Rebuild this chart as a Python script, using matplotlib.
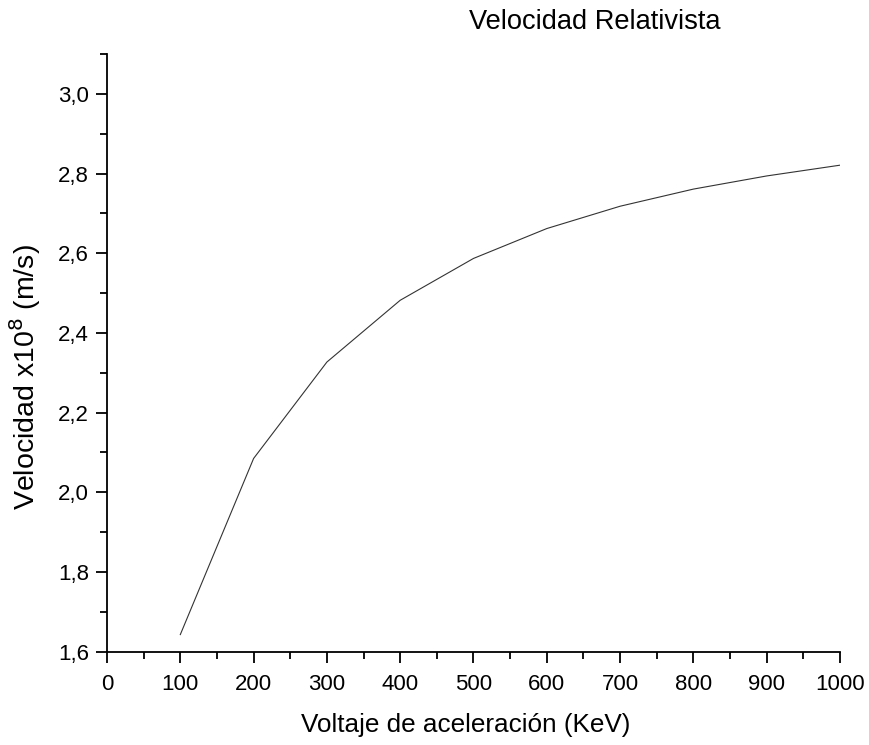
import matplotlib
matplotlib.use("Agg")
import matplotlib.pyplot as plt
from matplotlib.ticker import MultipleLocator, FuncFormatter

plt.rcParams['font.family'] = ['Liberation Sans', 'DejaVu Sans']

voltage_kev = [100, 200, 300, 400, 500, 600, 700, 800, 900, 1000]
velocity_e8 = [1.643, 2.085, 2.327, 2.482, 2.587, 2.662, 2.718, 2.761, 2.794, 2.821]

title = "Velocidad Relativista"
xlabel = "Voltaje de aceleración (KeV)"
ylabel = r"Velocidad x10$^{8}$ (m/s)"

fig = plt.figure(figsize=(8.7, 7.45), dpi=100)
ax = fig.add_axes([0.123, 0.1252, 0.8425, 0.8023])

ax.plot(voltage_kev, velocity_e8, color='#333333', lw=0.8)

ax.set_xlim(0, 1000)
ax.set_ylim(1.6, 3.1)
ax.xaxis.set_major_locator(MultipleLocator(100))
ax.xaxis.set_minor_locator(MultipleLocator(50))
ax.yaxis.set_major_locator(MultipleLocator(0.2))
ax.yaxis.set_minor_locator(MultipleLocator(0.1))
ax.yaxis.set_major_formatter(FuncFormatter(lambda v, p: f"{v:.1f}".replace('.', ',')))

for s in ['top', 'right']:
    ax.spines[s].set_visible(False)
for s in ['left', 'bottom']:
    ax.spines[s].set_linewidth(1.3)

ax.tick_params(which='major', direction='out', length=8, width=1.3, labelsize=16, pad=5)
ax.tick_params(axis='x', which='major', pad=8)
ax.tick_params(which='minor', direction='out', length=5, width=1.3)

ax.set_xlabel(xlabel, fontsize=18.8, labelpad=13, x=0.49)
ax.set_ylabel(ylabel, fontsize=20.5, labelpad=11, y=0.459)

fig.text(0.684, 1 - 22/745, title, ha='center', va='center', fontsize=19.6)

fig.savefig("out.png", dpi=100)
